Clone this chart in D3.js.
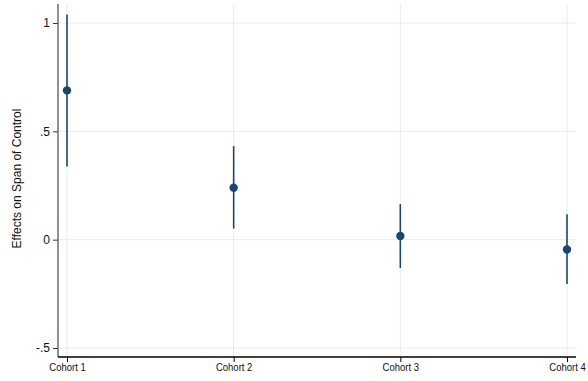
<!DOCTYPE html>
<html><head><meta charset="utf-8">
<script src="https://cdn.jsdelivr.net/npm/d3@7"></script>
<style>body{margin:0;background:#fff;}svg{display:block;font-family:"Liberation Sans",Arial,sans-serif;}</style>
</head><body>
<script>
const categories = ["Cohort 1","Cohort 2","Cohort 3","Cohort 4"];
const estimates = [0.689, 0.240, 0.017, -0.045];
const ciLow = [0.338, 0.051, -0.131, -0.205];
const ciHigh = [1.039, 0.432, 0.164, 0.117];
const yTicks = [-0.5, 0, 0.5, 1];
const yTickLabels = ["-.5", "0", ".5", "1"];
const yLabel = "Effects on Span of Control";

const W = 588, H = 381;
const svg = d3.select("body").append("svg").attr("width", W).attr("height", H);
const color = "#1a476f";

const x = d3.scaleLinear().domain([0.946, 4.054]).range([58, 576]);
const y = d3.scaleLinear().domain([-0.5, 1]).range([348, 23]);
const yTop = 4, yBot = 357;

// grid
svg.append("g").selectAll("line").data(yTicks).join("line")
  .attr("x1", 58).attr("x2", 576).attr("y1", d => y(d)).attr("y2", d => y(d))
  .attr("stroke", "#eaeaea").attr("stroke-width", 1);
svg.append("g").selectAll("line").data(categories).join("line")
  .attr("x1", (d,i) => x(i+1)).attr("x2", (d,i) => x(i+1)).attr("y1", yTop).attr("y2", yBot)
  .attr("stroke", "#eaeaea").attr("stroke-width", 1);

// y axis
const yAxis = d3.axisLeft(y).tickValues(yTicks).tickFormat((d,i) => yTickLabels[i]).tickSize(5).tickPadding(3);
const gy = svg.append("g").attr("transform", "translate(58,0)").call(yAxis);
gy.select(".domain").remove();
gy.append("line").attr("x1", 0).attr("x2", 0).attr("y1", yTop).attr("y2", yBot).attr("stroke", "#555").attr("stroke-width", 1.3);
gy.selectAll(".tick line").attr("stroke", "#333");
gy.selectAll(".tick text").attr("font-size", 12).attr("fill", "#111").attr("font-family", "Liberation Sans, Arial, sans-serif");

// x axis
const xAxis = d3.axisBottom(x).tickValues([1,2,3,4]).tickFormat((d) => categories[d-1]).tickSize(5).tickPadding(2);
const gx = svg.append("g").attr("transform", `translate(0,${yBot})`).call(xAxis);
gx.select(".domain").remove();
gx.append("line").attr("x1", 58).attr("x2", 576).attr("y1", 0).attr("y2", 0).attr("stroke", "#000").attr("stroke-width", 1.3);
gx.selectAll(".tick line").attr("stroke", "#000");
gx.selectAll(".tick text").attr("font-size", 10).attr("fill", "#111").attr("font-family", "Liberation Sans, Arial, sans-serif")
  .attr("transform", "scale(0.95,1)").attr("x", function(d){ return 0; });

// y label
svg.append("text").attr("transform", `translate(21,${(yTop+yBot)/2 - 2}) rotate(-90)`)
  .attr("text-anchor", "middle").attr("font-size", 12).attr("fill", "#111").text(yLabel);

// CIs
svg.append("g").selectAll("line").data(categories).join("line")
  .attr("x1", (d,i) => x(i+1)).attr("x2", (d,i) => x(i+1))
  .attr("y1", (d,i) => y(ciLow[i])).attr("y2", (d,i) => y(ciHigh[i]))
  .attr("stroke", color).attr("stroke-width", 1.6);
// points
svg.append("g").selectAll("circle").data(categories).join("circle")
  .attr("cx", (d,i) => x(i+1)).attr("cy", (d,i) => y(estimates[i])).attr("r", 4.2)
  .attr("fill", color);
</script>
</body></html>
